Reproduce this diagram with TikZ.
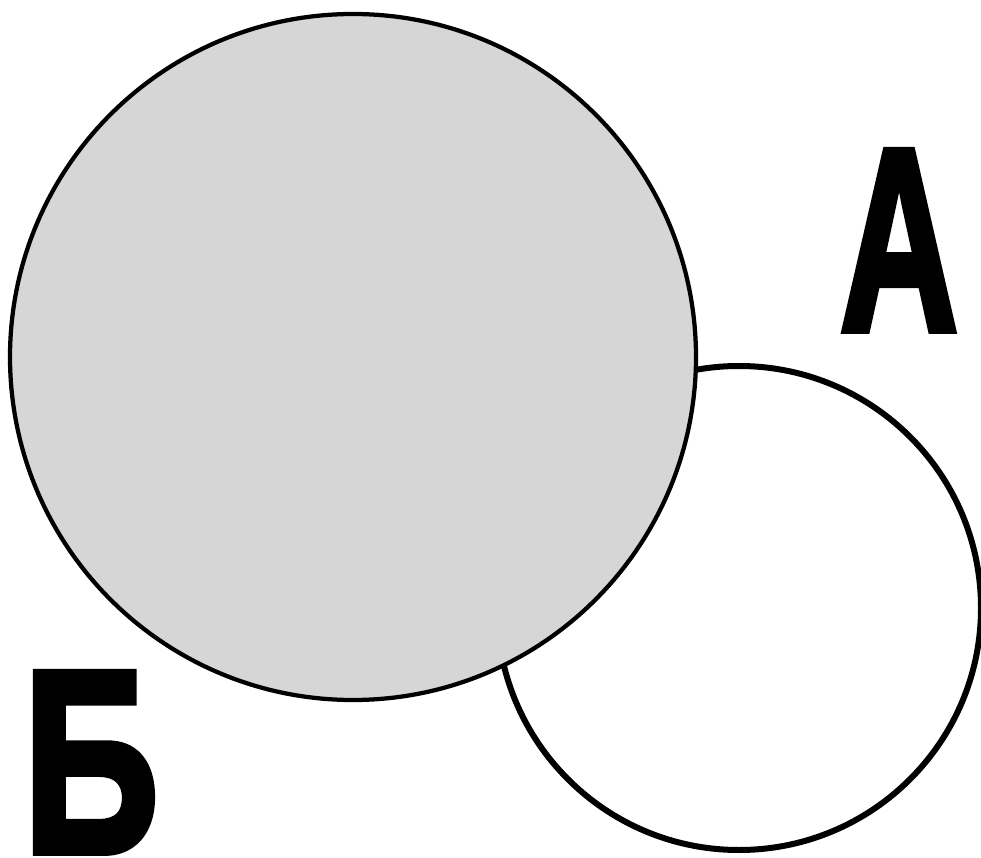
\documentclass[tikz,border=0pt]{standalone}
\usepackage{fontspec}
\setmainfont{Liberation Sans}
\newfontfamily\heavyfont[BoldFeatures={FakeBold=3}]{Liberation Sans}
\begin{document}
\begin{tikzpicture}[x=0.02cm,y=-0.02cm,
  smallcirc/.style={draw=black,line width=0.12cm,fill=white},
  bigcirc/.style={draw=black,line width=0.085cm},
  letter/.style={inner sep=0pt,outer sep=0pt,text=black}]
\definecolor{lightfill}{RGB}{214,214,214}
\useasboundingbox[fill=white] (0,0) rectangle (981,858);
\draw[smallcirc] (739,608) circle[radius=242*0.02cm];
\fill[lightfill] (353,357) circle[radius=343*0.02cm];
\draw[bigcirc] (353,357) circle[radius=343*0.02cm];
\node[letter,anchor=south west] (A) at (840,330) {\resizebox{2.36cm}{3.58cm}{\heavyfont\bfseries A}};
\node[letter,anchor=south west] (B) at (23,852) {\resizebox{2.72cm}{3.58cm}{\heavyfont\bfseries Б}};
\end{tikzpicture}
\end{document}
